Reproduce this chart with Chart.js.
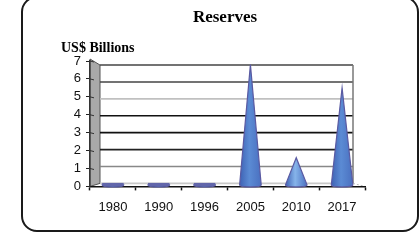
<!DOCTYPE html>
<html>
<head>
<meta charset="utf-8">
<script src="https://cdn.jsdelivr.net/npm/chart.js@4.4.0/dist/chart.umd.min.js"></script>
<style>
  html, body { margin: 0; padding: 0; background: #fff; width: 419px; height: 242px; overflow: hidden; }
  #frame { position: absolute; left: 21px; top: -4px; width: 398px; height: 236px; box-sizing: border-box;
           border: 2px solid #1a1a1a; border-radius: 16px; }
  #wrap { position: absolute; left: 0; top: 0; width: 419px; height: 242px; }
</style>
</head>
<body>
<div id="frame"></div>
<div id="wrap"><canvas id="reserves-chart" width="419" height="242"></canvas></div>
<script>
var years = ['1980', '1990', '1996', '2005', '2010', '2017'];
var reserves = [0.1, 0.1, 0.1, 6.8, 1.6, 5.5];
var yTicks = [0, 1, 2, 3, 4, 5, 6, 7];

var coneColors = ['#5b8bd4', '#5b8bd4', '#5b8bd4', '#5b8bd4', '#86b4ea', '#5b8bd4'];
var gridColors = ['#c8c8c8', '#888', '#222', '#111', '#111', '#c0c0c0', '#444', '#444'];

// back wall position of a value (3d look: wall sits a bit right and inside the front axes)
function backY(chart, v) {
    var a = chart.chartArea;
    var py = chart.scales.y.getPixelForValue(v);
    return a.bottom - 3 + (py - a.bottom) * 118 / 125;
}

var wallPlugin = {
    id: 'wall',
    beforeDraw: function(chart) {
        var ctx = chart.ctx, a = chart.chartArea;
        var wl = a.left + 10, wr = a.right - 12;
        var top = backY(chart, yTicks[yTicks.length - 1]), bot = backY(chart, 0);
        ctx.save();
        // side wall
        ctx.fillStyle = '#a9a9a9';
        ctx.beginPath();
        ctx.moveTo(a.left, a.top - 2);
        ctx.lineTo(wl, top);
        ctx.lineTo(wl, bot);
        ctx.lineTo(a.left, a.bottom);
        ctx.closePath();
        ctx.fill();
        ctx.strokeStyle = '#555';
        ctx.lineWidth = 1;
        ctx.stroke();
        // gridlines on the back wall
        ctx.lineWidth = 1.6;
        yTicks.forEach(function(v, i) {
            var gy = backY(chart, v);
            ctx.strokeStyle = gridColors[i];
            ctx.beginPath();
            ctx.moveTo(wl, gy);
            ctx.lineTo(wr, gy);
            ctx.stroke();
            // short link from the front tick to the wall
            if (v > 0) {
                var fy = chart.scales.y.getPixelForValue(v);
                ctx.strokeStyle = '#333';
                ctx.lineWidth = 1;
                ctx.beginPath();
                ctx.moveTo(a.left, fy);
                ctx.lineTo(a.left + 4, fy + 1);
                ctx.stroke();
                ctx.lineWidth = 1.6;
            }
        });
        // right edge of back wall
        ctx.strokeStyle = '#777';
        ctx.lineWidth = 1.5;
        ctx.beginPath();
        ctx.moveTo(wr, top);
        ctx.lineTo(wr, bot);
        ctx.stroke();
        // floor edge on the right
        ctx.strokeStyle = '#bbb';
        ctx.lineWidth = 1;
        ctx.setLineDash([2, 2]);
        ctx.beginPath();
        ctx.moveTo(wr, bot);
        ctx.lineTo(a.right, a.bottom);
        ctx.stroke();
        ctx.restore();
    },
    beforeDatasetsDraw: function(chart) {
        var ctx = chart.ctx;
        var meta = chart.getDatasetMeta(0);
        ctx.save();
        meta.data.forEach(function(bar, i) {
            var half = bar.width / 2;
            var x = bar.x, base = bar.base - 1;
            var grad = ctx.createLinearGradient(x - half, 0, x + half, 0);
            grad.addColorStop(0, '#3e62b4');
            grad.addColorStop(0.45, coneColors[i]);
            grad.addColorStop(1, '#4a70c0');
            ctx.fillStyle = grad;
            ctx.strokeStyle = '#5a5aa2';
            ctx.lineWidth = 1.2;
            ctx.beginPath();
            ctx.moveTo(x - half, base);
            ctx.lineTo(x, bar.y);
            ctx.lineTo(x + half, base);
            ctx.ellipse(x, base, half, 2, 0, 0, Math.PI);
            ctx.closePath();
            ctx.fill();
            ctx.stroke();
            if (reserves[i] < 0.5) {
                ctx.fillStyle = '#6266aa';
                ctx.fillRect(x - half, base - 2, bar.width, 3);
            }
        });
        ctx.restore();
        return false;
    },
    afterDraw: function(chart) {
        var ctx = chart.ctx;
        ctx.save();
        ctx.fillStyle = '#000';
        ctx.textBaseline = 'middle';
        ctx.textAlign = 'center';
        ctx.font = 'bold 17px "Liberation Serif"';
        ctx.fillText('Reserves', 225, 18);
        ctx.textAlign = 'left';
        ctx.font = 'bold 14px "Liberation Serif"';
        ctx.fillText('US$ Billions', 61, 48);
        ctx.restore();
    }
};

new Chart(document.getElementById('reserves-chart'), {
    type: 'bar',
    data: {
        labels: years,
        datasets: [{
            data: reserves,
            backgroundColor: coneColors,
            barPercentage: 0.47,
            categoryPercentage: 1
        }]
    },
    options: {
        responsive: false,
        animation: false,
        layout: { padding: { left: 50, right: 54, top: 61, bottom: 18 } },
        plugins: {
            legend: { display: false },
            tooltip: { enabled: false },
            title: { display: false }
        },
        scales: {
            x: {
                grid: { offset: true, drawOnChartArea: false, tickLength: 4, color: '#111', tickWidth: 1.5 },
                border: { color: '#111', width: 1.5 },
                ticks: { color: '#111', padding: 9, font: { family: '"Liberation Sans"', size: 13 } }
            },
            y: {
                min: 0,
                max: 7,
                afterFit: function(s) { s.width = 40; },
                grid: { drawOnChartArea: false, tickLength: 4, color: '#222' },
                border: { color: '#333', width: 1.5 },
                ticks: { stepSize: 1, autoSkip: false, color: '#111', padding: 5, font: { family: '"Liberation Sans"', size: 13 } }
            }
        }
    },
    plugins: [wallPlugin]
});
</script>
</body>
</html>
